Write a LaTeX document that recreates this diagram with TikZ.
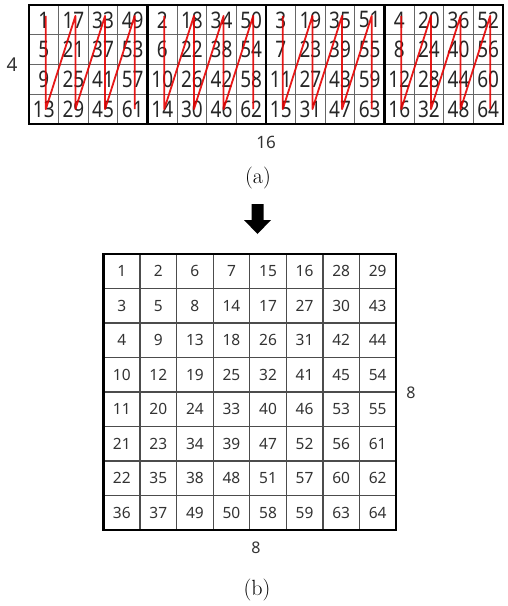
\documentclass[tikz,border=0pt]{standalone}
\usepackage{fontspec}
\setsansfont{Noto Sans}
\begin{document}
\begin{tikzpicture}[x=1pt,y=-1pt,
  tnum/.style={inner sep=0pt,font=\sffamily\fontsize{19}{19}\selectfont,text=black!85},
  bnum/.style={inner sep=0pt,font=\sffamily\fontsize{15.5}{15.5}\selectfont,text=black!80},
  lbl/.style={inner sep=0pt,font=\sffamily\fontsize{16}{16}\selectfont,text=black!80},
  captxt/.style={inner sep=0pt,font=\rmfamily\fontsize{22}{22}\selectfont},
  tline/.style={draw=black!60,line width=0.9pt},
  bline/.style={draw=black!70,line width=1.3pt},
  border/.style={draw=black,line width=2.4pt},
  zig/.style={draw=red!90!black,line width=1.8pt,opacity=0.9,line join=round}]
\useasboundingbox (0,0) rectangle (507,606);
% ---------- top grid (a) ----------
\foreach \k in {1,...,15} \draw[tline] ({29+\k*29.625},5) -- ({29+\k*29.625},124);
\foreach \k in {1,2,3} \draw[tline] (29,{5+\k*29.75}) -- (503,{5+\k*29.75});
\draw[border] (29,5) rectangle (503,124);
\foreach \k in {1,2,3} \draw[border] ({29+\k*118.5},5) -- ({29+\k*118.5},124);
\foreach \b in {0,...,3}
 \foreach \j in {0,...,3}
  \foreach \i in {0,...,3}{
   \pgfmathtruncatemacro\v{1+\b+4*\i+16*\j}
   \pgfmathsetmacro\cx{29+(4*\b+\j+0.5)*29.625}
   \pgfmathsetmacro\cy{5+(\i+0.5)*29.75}
   \node[tnum] (t-\b-\j-\i) at (\cx,\cy) {\scalebox{1}[1.2]{\v}};
  }
\foreach \b in {0,...,3}{
 \draw[zig] ([xshift=2pt,yshift=4pt]t-\b-0-0.center) -- ([xshift=2pt]t-\b-0-3.center)
   -- ([xshift=2pt,yshift=4pt]t-\b-1-0.center) -- ([xshift=2pt]t-\b-1-3.center)
   -- ([xshift=2pt,yshift=4pt]t-\b-2-0.center) -- ([xshift=2pt]t-\b-2-3.center)
   -- ([xshift=2pt,yshift=4pt]t-\b-3-0.center) -- ([xshift=2pt]t-\b-3-3.center);
}
\node[lbl,font=\sffamily\fontsize{19}{19}\selectfont] (four) at (12,65) {4};
\node[lbl,font=\sffamily\fontsize{17}{17}\selectfont] (sixteen) at (266,142) {16};
\node[captxt] (capa) at (258,178) {(a)};
% ---------- arrow ----------
\fill[black] (251.5,204) -- (263.5,204) -- (263.5,220) -- (271,220) -- (257.5,234)
  -- (244,220) -- (251.5,220) -- cycle;
% ---------- bottom grid (b) ----------
\foreach \k in {1,...,7} \draw[bline] ({103.5+\k*36.56},254) -- ({103.5+\k*36.56},530);
\foreach \k in {1,...,7} \draw[bline] (103.5,{254+\k*34.5}) -- (396,{254+\k*34.5});
\draw[border] (103.5,254) rectangle (396,530);
\foreach \row [count=\r from 0] in {
  {1,2,6,7,15,16,28,29},
  {3,5,8,14,17,27,30,43},
  {4,9,13,18,26,31,42,44},
  {10,12,19,25,32,41,45,54},
  {11,20,24,33,40,46,53,55},
  {21,23,34,39,47,52,56,61},
  {22,35,38,48,51,57,60,62},
  {36,37,49,50,58,59,63,64}}{
  \foreach \v [count=\c from 0] in \row {
    \node[bnum] (b-\r-\c) at ({103.5+(\c+0.5)*36.56},{254+(\r+0.5)*34.5}) {\v};
  }
}
\node[lbl] (eightr) at (411,393) {8};
\node[lbl] (eightb) at (256,548) {8};
\node[captxt] (capb) at (257,590) {(b)};
\end{tikzpicture}
\end{document}
